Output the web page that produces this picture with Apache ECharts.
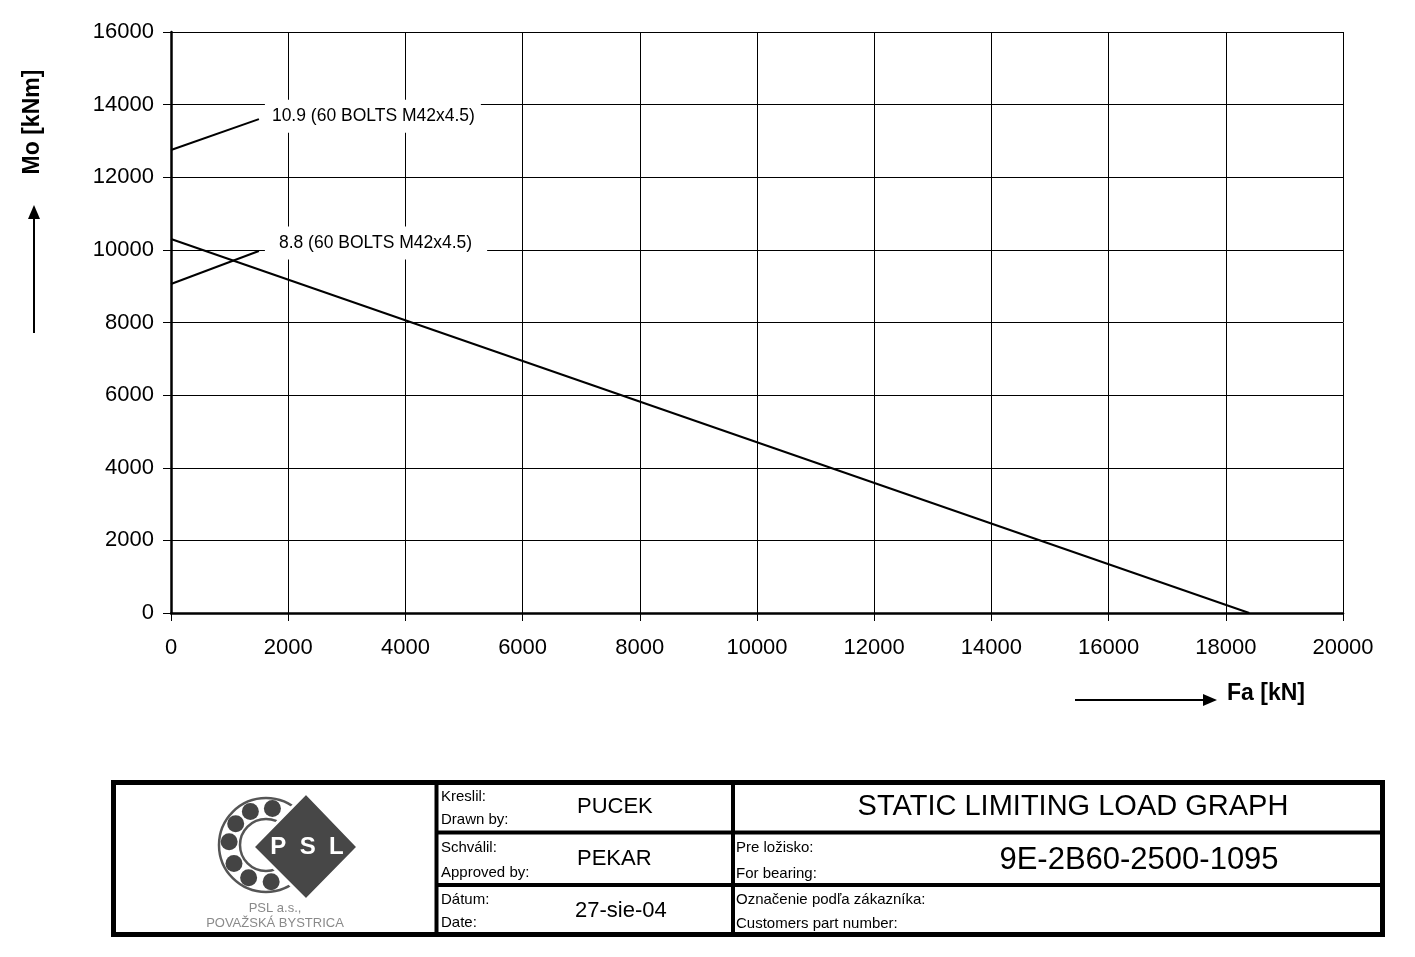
<!DOCTYPE html>
<html>
<head>
<meta charset="utf-8">
<script src="https://cdn.jsdelivr.net/npm/echarts@6/dist/echarts.min.js"></script>
<style>
html,body{margin:0;padding:0;background:#fff;}
#chart{width:1415px;height:957px;}
</style>
</head>
<body>
<div id="chart"></div>
<script>
// ---- data ----
const xTickStep = 2000;
const xMax = 20000;
const yMax = 16000;
const mainFa = [0, 18400];
const mainMo = [10300, 0];
const bolt109Fa = [0, 1500];
const bolt109Mo = [12750, 13600];
const bolt88Fa = [0, 1500];
const bolt88Mo = [9060, 9970];
const boltLabels = ['10.9 (60 BOLTS M42x4.5)', '8.8 (60 BOLTS M42x4.5)'];
const yAxisTitle = 'Mo [kNm]';
const xAxisTitle = 'Fa [kN]';
const tableTexts = {
  drawnLbl: ['Kreslil:', 'Drawn by:'], drawn: 'PUCEK',
  apprLbl: ['Schválil:', 'Approved by:'], appr: 'PEKAR',
  dateLbl: ['Dátum:', 'Date:'], date: '27-sie-04',
  title: 'STATIC LIMITING LOAD GRAPH',
  bearLbl: ['Pre ložisko:', 'For bearing:'], bear: '9E-2B60-2500-1095',
  custLbl: ['Označenie podľa zákazníka:', 'Customers part number:'],
  logo: 'P  S  L', comp1: 'PSL a.s.,', comp2: 'POVAŽSKÁ BYSTRICA'
};

const FONT = "'Liberation Sans', Arial, sans-serif";
const chart = echarts.init(document.getElementById('chart'));

function pairs(xs, ys, lbl, offY, pad) {
  return xs.map((x, i) => {
    const d = { value: [x, ys[i]] };
    if (lbl && i === xs.length - 1) {
      d.label = {
        show: true, formatter: lbl, position: 'right', distance: 6,
        offset: [0, offY],
        backgroundColor: '#fff', padding: pad,
        color: '#000', fontSize: 17.5, fontFamily: FONT
      };
    }
    return d;
  });
}

const lineStyle = { color: '#000', width: 2 };

const g = [];
function txt(x, y, text, size, opts) {
  g.push({
    type: 'text', x: x, y: y,
    style: Object.assign({ text: text, font: size + 'px ' + FONT, fill: '#000', textVerticalAlign: 'middle' }, opts || {})
  });
}
// y title
g.push({ type: 'text', x: 33, y: 122, rotation: Math.PI / 2,
  style: { text: yAxisTitle, font: 'bold 23px ' + FONT, fill: '#000', textAlign: 'center', textVerticalAlign: 'middle' } });
g.push({ type: 'line', shape: { x1: 34, y1: 333, x2: 34, y2: 215 }, style: { stroke: '#000', lineWidth: 2 } });
g.push({ type: 'polygon', shape: { points: [[34, 205], [28, 219], [40, 219]] }, style: { fill: '#000' } });
// x title
g.push({ type: 'text', x: 1227, y: 694,
  style: { text: xAxisTitle, font: 'bold 23px ' + FONT, fill: '#000', textAlign: 'left', textVerticalAlign: 'middle' } });
g.push({ type: 'line', shape: { x1: 1075, y1: 700, x2: 1206, y2: 700 }, style: { stroke: '#000', lineWidth: 2 } });
g.push({ type: 'polygon', shape: { points: [[1217, 700], [1203, 694], [1203, 706]] }, style: { fill: '#000' } });

// title block frame
g.push({ type: 'rect', shape: { x: 113.5, y: 782.5, width: 1269, height: 152 }, style: { stroke: '#000', fill: null, lineWidth: 5 } });
g.push({ type: 'line', shape: { x1: 436.5, y1: 782, x2: 436.5, y2: 935 }, style: { stroke: '#000', lineWidth: 4 } });
g.push({ type: 'line', shape: { x1: 733, y1: 782, x2: 733, y2: 935 }, style: { stroke: '#000', lineWidth: 4 } });
g.push({ type: 'line', shape: { x1: 436, y1: 832.5, x2: 1383, y2: 832.5 }, style: { stroke: '#000', lineWidth: 4 } });
g.push({ type: 'line', shape: { x1: 436, y1: 885, x2: 1383, y2: 885 }, style: { stroke: '#000', lineWidth: 4 } });

// middle column text
txt(441, 797, tableTexts.drawnLbl[0], 15); txt(441, 820, tableTexts.drawnLbl[1], 15);
txt(577, 807, tableTexts.drawn, 22);
txt(441, 848, tableTexts.apprLbl[0], 15); txt(441, 873, tableTexts.apprLbl[1], 15);
txt(577, 859, tableTexts.appr, 22);
txt(575, 911, tableTexts.date, 22);
txt(441, 900, tableTexts.dateLbl[0], 15); txt(441, 923, tableTexts.dateLbl[1], 15);
// right column text
txt(1073, 807, tableTexts.title, 29, { textAlign: 'center' });
txt(736, 848, tableTexts.bearLbl[0], 15); txt(736, 874, tableTexts.bearLbl[1], 15);
txt(1139, 860, tableTexts.bear, 31, { textAlign: 'center' });
txt(736, 900, tableTexts.custLbl[0], 15); txt(736, 924, tableTexts.custLbl[1], 15);

// logo
const cx = 266, cy = 845;
g.push({ type: 'circle', shape: { cx: cx, cy: cy, r: 47 }, style: { stroke: '#555', fill: '#fff', lineWidth: 2.5 } });
g.push({ type: 'circle', shape: { cx: cx, cy: cy, r: 26 }, style: { stroke: '#555', fill: '#fff', lineWidth: 2.5 } });
const ballAngles = [-115, -80, -145, -175, 150, 118, 82];
ballAngles.forEach(a => {
  const r = a * Math.PI / 180;
  g.push({ type: 'circle', shape: { cx: cx + 37 * Math.cos(r), cy: cy + 37 * Math.sin(r), r: 8.5 }, style: { fill: '#444' } });
});
g.push({ type: 'polygon', shape: { points: [[253, 847], [306, 793], [358, 847], [306, 900]] }, style: { fill: '#474747', stroke: '#fff', lineWidth: 3 } });
g.push({ type: 'text', x: 307, y: 847, style: { text: tableTexts.logo, font: 'bold 24px ' + FONT, fill: '#fff', textAlign: 'center', textVerticalAlign: 'middle' } });
txt(275, 908, tableTexts.comp1, 13, { textAlign: 'center', fill: '#8a8a8a' });
txt(275, 923, tableTexts.comp2, 13, { textAlign: 'center', fill: '#8a8a8a' });

const plainNum = v => String(v);
const axisCommon = {
  axisLine: { show: true, lineStyle: { color: '#000', width: 2.5 } },
  axisTick: { show: true, length: 8, lineStyle: { color: '#000', width: 1 } },
  splitLine: { show: true, lineStyle: { color: '#000', width: 1 } }
};

const lineSeries = (data) => ({
  type: 'line', data: data, symbol: 'circle', symbolSize: 0, showSymbol: true,
  itemStyle: { color: '#000' }, lineStyle: lineStyle, z: 3
});

chart.setOption({
  animation: false,
  backgroundColor: '#fff',
  grid: { left: 171, right: 72, top: 32, bottom: 344, containLabel: false },
  xAxis: Object.assign({}, axisCommon, {
    type: 'value', min: 0, max: xMax, interval: xTickStep,
    axisLabel: { color: '#000', fontSize: 22, fontFamily: FONT, margin: 24, formatter: plainNum }
  }),
  yAxis: Object.assign({}, axisCommon, {
    type: 'value', min: 0, max: yMax, interval: xTickStep,
    axisLabel: { color: '#000', fontSize: 22, fontFamily: FONT, margin: 17, formatter: plainNum }
  }),
  series: [
    lineSeries(pairs(mainFa, mainMo)),
    lineSeries(pairs(bolt109Fa, bolt109Mo, boltLabels[0], -3, [8, 6, 7, 7])),
    lineSeries(pairs(bolt88Fa, bolt88Mo, boltLabels[1], -8, [8, 15, 7, 14]))
  ],
  graphic: g
});
</script>
</body>
</html>
